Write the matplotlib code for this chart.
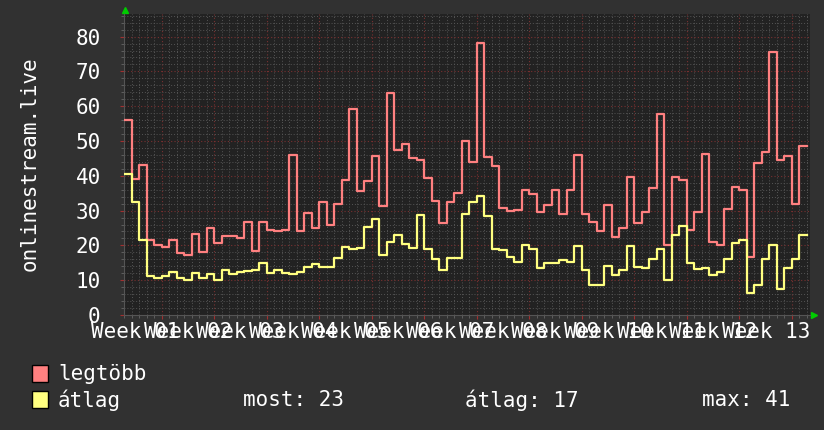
"""onlinestream.live - daily max / average listeners over one quarter (rrdtool look)."""

import numpy as np
import matplotlib

matplotlib.use("Agg")
import matplotlib.pyplot as plt
from matplotlib.patches import Rectangle

# daily values, 91 days
LEGTOBB = [56, 39, 43, 21.6, 20.2, 19.4, 21.6, 17.8, 17.3, 23.4,
           18.2, 25, 20.7, 22.7, 22.7, 22.2, 26.7, 18.3, 26.6, 24.4,
           24, 24.5, 46.1, 24.1, 29.4, 25.1, 32.5, 25.9, 32, 38.8,
           59.3, 35.7, 38.4, 45.8, 31.4, 63.7, 47.5, 49, 45, 44.6,
           39.4, 32.8, 26.3, 32.6, 35.2, 50.1, 44.1, 78.3, 45.3, 42.8,
           30.8, 30, 30.3, 36, 34.9, 29.6, 31.5, 36, 29.1, 35.8,
           46, 28.9, 26.8, 24.2, 31.7, 22.5, 25.1, 39.8, 26.3, 29.7,
           36.6, 57.8, 20.1, 39.8, 38.9, 24.5, 29.5, 46.3, 20.9, 20.1,
           30.6, 36.8, 36, 16.7, 43.7, 46.9, 75.6, 44.6, 45.8, 32, 48.6]
ATLAG = [40.6, 32.5, 21.6, 11.3, 10.7, 11.3, 12.4, 10.7, 10.0, 12.1,
         10.5, 11.7, 10.2, 12.9, 11.9, 12.4, 12.7, 12.8, 15, 12.2,
         13, 12.1, 11.9, 12.5, 13.9, 14.7, 13.9, 13.9, 16.3, 19.4,
         18.9, 19.2, 25.4, 27.7, 17.3, 21.1, 23.1, 20.3, 19.3, 28.6,
         19, 16.2, 13, 16.4, 16.4, 28.9, 32.5, 34.3, 28.5, 19.1,
         18.7, 16.7, 15.2, 20.2, 18.9, 13.6, 14.8, 14.8, 15.9, 15.2,
         19.7, 13, 8.7, 8.7, 14.2, 11.6, 12.8, 19.7, 13.7, 13.4,
         16, 18.9, 10.1, 23.1, 25.7, 15, 13.2, 13.4, 11.6, 12.4,
         16, 20.8, 21.6, 6.3, 8.7, 16.2, 20.2, 7.6, 13.4, 16, 23.1]
WEEK_LABELS = [f"Week {n:02d}" for n in range(1, 14)]
WEEK_START = 5  # first week boundary (day index)

BG = "#313131"
CANVAS = "#222222"
RED = "#ff8080"
YELLOW = "#ffff80"
FONT = "DejaVu Sans Mono"


def main() -> None:
    plt.rcParams["font.family"] = FONT
    W, H = 824, 430
    fig = plt.figure(figsize=(W / 100, H / 100), dpi=100, facecolor=BG)
    left, right, top, bottom = 124.3, 810, 14, 315
    ax = fig.add_axes([left / W, 1 - bottom / H, (right - left) / W, (bottom - top) / H])
    ax.set_facecolor(CANVAS)

    n = len(LEGTOBB)
    days = np.arange(n + 1)
    ax.plot(days, LEGTOBB + [LEGTOBB[-1]], drawstyle="steps-post", color=RED, lw=1.6, zorder=3)
    ax.plot(days, ATLAG + [ATLAG[-1]], drawstyle="steps-post", color=YELLOW, lw=1.6, zorder=3)

    ax.set_xlim(0, 91.4)
    ax.set_ylim(0, 86.5)

    week_lines = np.arange(WEEK_START, n + 1, 7)
    ax.set_xticks(week_lines)
    ax.set_xticks(np.arange(0, n + 1), minor=True)
    ax.set_yticks(np.arange(0, 81, 10))
    ax.set_yticks(np.arange(0, 87, 2), minor=True)
    ax.set_xticklabels([])

    ax.grid(which="minor", color="#555555", linestyle=(0, (1, 2)), lw=0.7)
    ax.grid(which="major", color="#7a3030", linestyle=(0, (1, 2)), lw=0.8)
    ax.set_axisbelow(True)

    ax.tick_params(axis="both", which="major", direction="out", length=3,
                   color="#a03030", labelcolor="white", labelsize=15)
    ax.tick_params(axis="both", which="minor", direction="out", length=2, color="#666666")
    ax.tick_params(axis="y", which="major", pad=14)
    for s in ax.spines.values():
        s.set_visible(False)
    ax.spines["left"].set_visible(True)
    ax.spines["bottom"].set_visible(True)
    ax.spines["left"].set_color("#555555")
    ax.spines["bottom"].set_color("#555555")

    # axis arrows
    ax.plot([0.001], [1.012], marker="^", color="#00cc00", ms=5,
            transform=ax.transAxes, clip_on=False)
    ax.plot([1.006], [0.0], marker=">", color="#00cc00", ms=5,
            transform=ax.transAxes, clip_on=False)

    # week labels centred on each week
    for i, lab in enumerate(WEEK_LABELS):
        ax.text(WEEK_START - 3.5 + 7 * i, -0.055, lab, transform=ax.get_xaxis_transform(),
                ha="center", va="center", color="white", fontsize=15)

    fig.text(30 / W, 1 - 164 / H, "onlinestream.live", rotation=90, ha="center",
             va="center", color="white", fontsize=15)

    # legend
    for y, col, lab in [(374, RED, "legtöbb"), (400, YELLOW, "átlag")]:
        fig.add_artist(Rectangle((32 / W, 1 - (y + 8) / H), 16 / W, 17 / H,
                                 facecolor=col, edgecolor="black", lw=1,
                                 transform=fig.transFigure))
        fig.text(58 / W, 1 - y / H, lab, ha="left", va="center", color="white", fontsize=15)

    most = ATLAG[-1]
    avg = np.mean(ATLAG)
    mx = max(ATLAG)
    fig.text(243 / W, 1 - 400 / H, f"most: {most:.0f}", va="center", color="white", fontsize=15)
    fig.text(465 / W, 1 - 400 / H, f"átlag: {avg:.0f}", va="center", color="white", fontsize=15)
    fig.text(702 / W, 1 - 400 / H, f"max: {mx:.0f}", va="center", color="white", fontsize=15)

    fig.savefig("out.png", dpi=100, facecolor=BG)


if __name__ == "__main__":
    main()
